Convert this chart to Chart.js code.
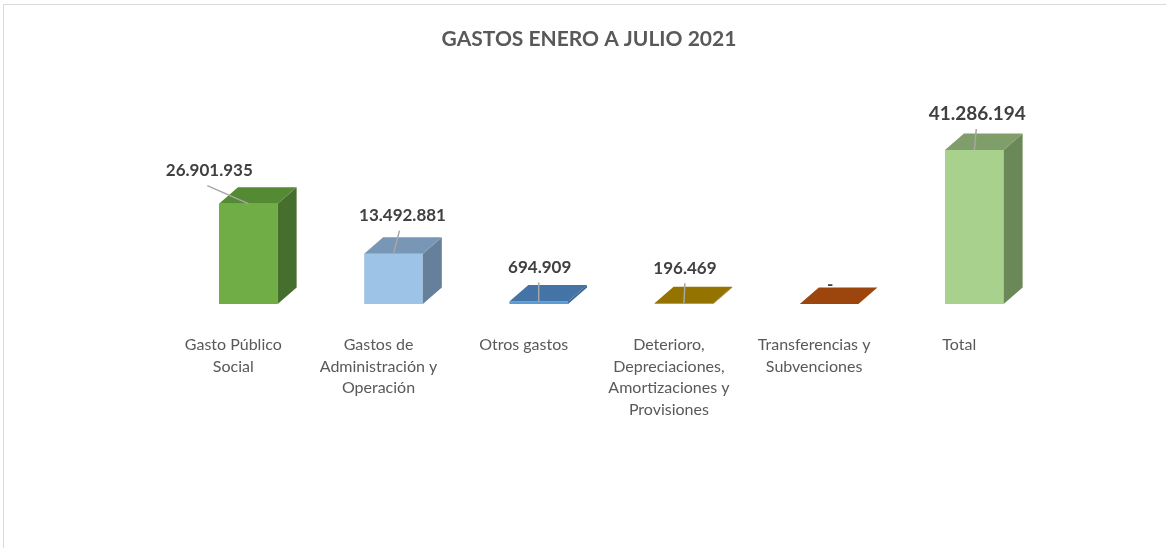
<!DOCTYPE html>
<html><head><meta charset="utf-8">
<script src="https://cdn.jsdelivr.net/npm/chart.js@4.4.1/dist/chart.umd.min.js"></script>
<style>html,body{margin:0;padding:0;background:#fff;overflow:hidden}#wrap{position:absolute;left:0;top:0;width:1166px;height:548px}</style>
</head><body><div id="wrap"><canvas id="c"></canvas></div>
<script>
const chartTitle = "GASTOS ENERO A JULIO 2021";
const categories = [["Gasto Público","Social"],["Gastos de","Administración y","Operación"],["Otros gastos"],["Deterioro,","Depreciaciones,","Amortizaciones y","Provisiones"],["Transferencias y","Subvenciones"],["Total"]];
const values = [26901935, 13492881, 694909, 196469, 0, 41286194];
const valueLabels = ["26.901.935","13.492.881","694.909","196.469","-","41.286.194"];
const frontColors = ["#70AD47","#9DC3E6","#5B9BD5","#BF9000","#C55A11","#A9D18E"];
const topColors = ["#558A35","#7896B6","#4474A6","#947300","#9C450D","#7F9E6A"];
const sideColors = ["#466E2D","#66809C","#3A6690","#7F6300","#863B0B","#6B8858"];

const threeD = {
  id:'threeD',
  beforeDraw(chart){
    const c = chart.ctx;
    c.save();
    c.fillStyle='#fff'; c.fillRect(0,0,chart.width,chart.height);
    c.strokeStyle='#D9D9D9'; c.lineWidth=1;
    c.beginPath(); c.moveTo(3.5,chart.height); c.lineTo(3.5,4.5); c.lineTo(chart.width,4.5); c.stroke();
    c.font = 'bold 21px Lato'; c.fillStyle='#595959'; c.textAlign='center'; c.textBaseline='middle';
    c.fillText(chartTitle, 589, 39);
    c.restore();
  },
  afterDatasetsDraw(chart, args, opts){
    const c = chart.ctx;
    const meta = chart.getDatasetMeta(0);
    c.save();
    meta.data.forEach((bar,i)=>{
      const p = bar.getProps(['x','y','base','width'], true);
      const l = p.x - p.width/2, r = p.x + p.width/2;
      const dx = opts.dx, dy = opts.dy;
      c.fillStyle = sideColors[i];
      c.beginPath(); c.moveTo(r,p.y); c.lineTo(r,p.base); c.lineTo(r+dx,p.base-dy); c.lineTo(r+dx,p.y-dy); c.closePath(); c.fill();
      c.fillStyle = topColors[i];
      c.beginPath(); c.moveTo(l,p.y); c.lineTo(r,p.y); c.lineTo(r+dx,p.y-dy); c.lineTo(l+dx,p.y-dy); c.closePath(); c.fill();
    });
    c.textAlign='center'; c.textBaseline='middle';
    meta.data.forEach((bar,i)=>{
      const p = bar.getProps(['x','y'], true);
      const off = opts.labelOffsets[i];
      const lx = p.x + off[0], ly = p.y + off[1];
      if (off[2] !== null) {
        c.strokeStyle='#A6A6A6'; c.lineWidth=1.5;
        c.beginPath(); c.moveTo(lx + off[2], ly + 15); c.lineTo(p.x, p.y); c.stroke();
      }
      c.font = 'bold ' + off[3] + 'px Lato';
      c.fillStyle='#404040';
      c.fillText(valueLabels[i], lx, ly);
    });
    c.restore();
  }
};

new Chart(document.getElementById('c'), {
  type:'bar',
  data:{ labels: categories, datasets:[{ data: values, backgroundColor: frontColors, categoryPercentage:1, barPercentage:0.404, borderWidth:0 }] },
  options:{
    responsive:true, maintainAspectRatio:false, animation:false,
    layout:{ padding:{ left:175.7, right:119.1, top:80.2, bottom:120 } },
    plugins:{
      legend:{display:false}, tooltip:{enabled:false}, title:{display:false},
      threeD:{ dx:19, dy:16.5, labelOffsets:[[-39,-33,-2,17],[9,-38,-3,17],[1,-34,-1,17],[1,-35,0,17],[1,-19,null,17],[3,-36,-1,19]] }
    },
    scales:{
      x:{ grid:{display:false, drawTicks:false}, border:{display:false},
          afterFit(scale){ scale.height = 124; },
          ticks:{ color:'#595959', font:{family:'Lato', size:16, lineHeight:1.356}, padding:30, labelOffset:-15, maxRotation:0, autoSkip:false } },
      y:{ display:false, min:0, max:60000000 }
    }
  },
  plugins:[threeD]
});
</script></body></html>
